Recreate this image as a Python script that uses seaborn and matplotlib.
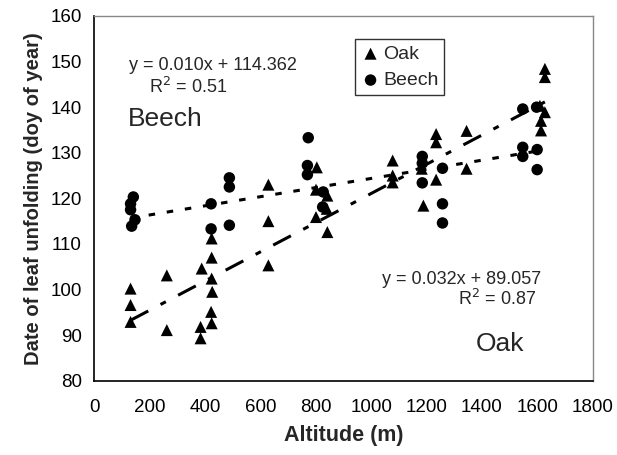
import numpy as np
import pandas as pd
import matplotlib
matplotlib.use("Agg")
import matplotlib.pyplot as plt
import seaborn as sns

# ---- data ----
oak_alt = [131, 131, 131, 262, 262, 384, 384, 388, 424, 424, 424, 426, 422, 424,
           629, 629, 629, 804, 801, 842, 840, 801, 842, 1078, 1078, 1078,
           1183, 1189, 1235, 1235, 1235, 1345, 1345, 1628, 1628, 1610, 1628, 1614, 1614]
oak_doy = [100.2, 96.6, 92.9, 103.1, 91.1, 91.8, 89.3, 104.6, 111.2, 107.0, 102.4, 99.5, 95.1, 92.6,
           123.0, 115.0, 105.3, 126.8, 121.9, 120.6, 117.7, 115.9, 112.6, 128.3, 125.0, 123.5,
           126.5, 118.4, 134.1, 132.3, 124.1, 134.8, 126.5, 148.4, 146.6, 140.3, 138.9, 137.0, 134.9]
beech_alt = [141, 131, 131, 147, 135, 422, 422, 488, 488, 488, 773, 770, 770, 827, 825,
             1185, 1185, 1185, 1258, 1258, 1258, 1548, 1548, 1548, 1598, 1600, 1600]
beech_doy = [120.3, 118.8, 117.5, 115.3, 113.9, 118.8, 113.3, 124.5, 122.5, 114.1, 133.3, 127.2, 125.2, 121.4, 118.1,
             129.2, 127.7, 123.4, 126.6, 118.8, 114.6, 139.6, 131.2, 129.2, 140.0, 130.7, 126.3]
oak_fit = (0.032, 89.057)     # slope, intercept
beech_fit = (0.010, 114.362)
oak_eq = ["y = 0.032x + 89.057", "R$^2$ = 0.87"]
beech_eq = ["y = 0.010x + 114.362", "R$^2$ = 0.51"]
x_ticks = list(range(0, 1801, 200))
y_ticks = list(range(80, 161, 10))

sns.set_style("white")
plt.rcParams["font.family"] = ["Liberation Sans", "DejaVu Sans"]
plt.rcParams["lines.scale_dashes"] = False

W, H = 617, 455
fig = plt.figure(figsize=(W / 100, H / 100), dpi=100)
L, R, T, B = 94.3, 592.5, 16, 380.7
ax = fig.add_axes([L / W, 1 - B / H, (R - L) / W, (B - T) / H])

def fx(px):
    return px / W
def fy(py):
    return 1 - py / H

# trend lines
ox = np.array([min(oak_alt), max(oak_alt)])
bx = np.array([min(beech_alt), max(beech_alt)])
ax.plot(ox, oak_fit[0] * ox + oak_fit[1], color="black", lw=2.2,
        linestyle=(0, (14.4, 10, 4.3, 10)), dash_capstyle="butt", zorder=2)
ax.plot(bx, beech_fit[0] * bx + beech_fit[1], color="black", lw=2.2,
        linestyle=(0, (4.7, 8.5)), dash_capstyle="butt", zorder=2)

oak_df = pd.DataFrame({"alt": oak_alt, "doy": oak_doy})
beech_df = pd.DataFrame({"alt": beech_alt, "doy": beech_doy})
sns.scatterplot(data=oak_df, x="alt", y="doy", marker="^", s=75, color="black",
                edgecolor="none", ax=ax, label="Oak", zorder=3)
sns.scatterplot(data=beech_df, x="alt", y="doy", marker="o", s=68, color="black",
                edgecolor="none", ax=ax, label="Beech", zorder=3)

ax.set_xlim(0, 1800)
ax.set_ylim(80, 160)
ax.set_xticks(x_ticks)
ax.set_yticks(y_ticks)
ax.tick_params(axis="both", direction="out", length=4, width=1, labelsize=13.5,
               color="black", labelcolor="black", pad=5)
ax.tick_params(axis="x", pad=9)
for s in ["left", "bottom"]:
    ax.spines[s].set_color("black")
    ax.spines[s].set_linewidth(1.2)
for s in ["top", "right"]:
    ax.spines[s].set_color("#888888")
    ax.spines[s].set_linewidth(1.0)

ax.set_xlabel("Altitude (m)", fontsize=15.5, fontweight="bold", labelpad=7)
ax.set_ylabel("Date of leaf unfolding (doy of year)", fontsize=14.5, fontweight="bold", labelpad=5)

leg = ax.legend(loc="lower left", bbox_to_anchor=(fx(355), fy(95)), bbox_transform=fig.transFigure,
                fontsize=14, frameon=True, fancybox=False, borderaxespad=0,
                handletextpad=0.15, handlelength=1.0, borderpad=0.3, labelspacing=0.45)
leg.get_frame().set_edgecolor("black")
leg.get_frame().set_linewidth(1.0)

fig.text(fx(213), fy(66), beech_eq[0], ha="center", va="center", fontsize=13)
fig.text(fx(188), fy(87), beech_eq[1], ha="center", va="center", fontsize=13)
fig.text(fx(165), fy(119), "Beech", ha="center", va="center", fontsize=19)
fig.text(fx(462), fy(279), oak_eq[0], ha="center", va="center", fontsize=13)
fig.text(fx(497), fy(299), oak_eq[1], ha="center", va="center", fontsize=13)
fig.text(fx(500), fy(344), "Oak", ha="center", va="center", fontsize=19)

fig.savefig("out.png", dpi=100)
